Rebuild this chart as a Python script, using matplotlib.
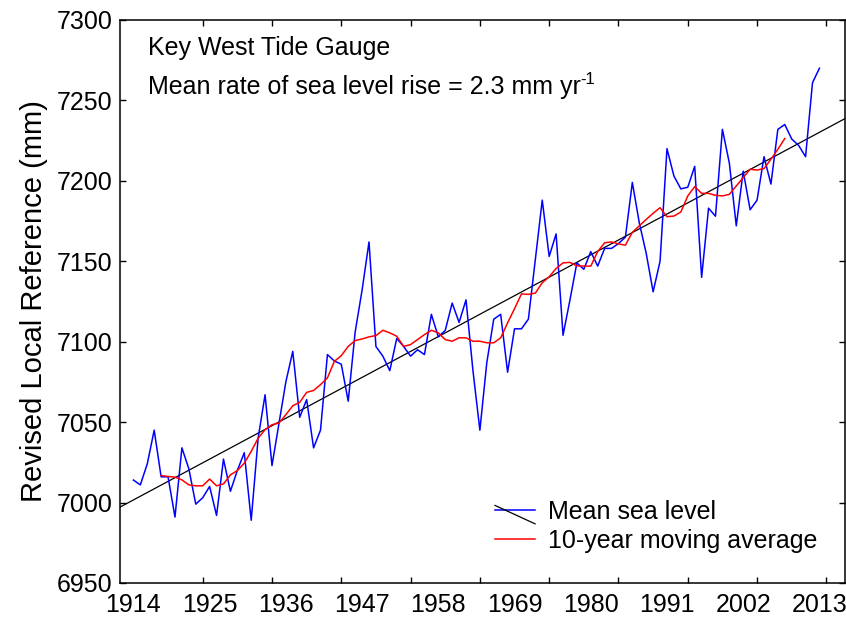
import numpy as np
import matplotlib
matplotlib.use("Agg")
import matplotlib.pyplot as plt
from matplotlib.lines import Line2D
from matplotlib.legend_handler import HandlerBase

plt.rcParams['font.family'] = ['Liberation Sans', 'DejaVu Sans']

# yearly mean sea level, Key West (mm, revised local reference)
years = np.arange(1914, 2014)
msl = [7014, 7011, 7024, 7045, 7016, 7016, 6991, 7034, 7021, 6999,
       7003, 7010, 6992, 7027, 7007, 7020, 7031, 6989, 7040, 7067,
       7023, 7049, 7075, 7094, 7053, 7064, 7034, 7045, 7092, 7088,
       7086, 7063, 7106, 7132, 7162, 7097, 7091, 7082, 7102, 7097,
       7091, 7095, 7092, 7117, 7103, 7107, 7124, 7112, 7126, 7082,
       7045, 7087, 7114, 7117, 7081, 7108, 7108, 7114, 7151, 7188,
       7153, 7167, 7104, 7126, 7149, 7145, 7156, 7147, 7158, 7158,
       7161, 7165, 7199, 7174, 7155, 7131, 7150, 7220, 7203, 7195,
       7196, 7209, 7140, 7183, 7178, 7232, 7211, 7172, 7206, 7182,
       7188, 7215, 7198, 7232, 7235, 7226, 7222, 7215, 7261, 7270]

# 10-year moving average (1918-2008)
ma_years = np.arange(1918, 2009)
ma = [7016.8, 7016.2, 7015.8, 7014.1, 7011.0, 7010.4, 7010.4, 7014.6, 7010.4, 7011.6,
      7017.2, 7019.9, 7024.5, 7031.8, 7040.0, 7045.3, 7048.4, 7049.4, 7054.6, 7060.2,
      7062.3, 7068.5, 7069.7, 7073.3, 7077.5, 7087.8, 7091.3, 7097.1, 7100.7, 7101.7,
      7103.0, 7103.8, 7107.1, 7105.5, 7103.4, 7097.1, 7098.2, 7101.3, 7104.4, 7107.1,
      7105.5, 7101.3, 7100.3, 7102.4, 7102.4, 7100.3, 7100.3, 7099.3, 7099.3, 7102.4,
      7111.7, 7120.5, 7129.7, 7129.4, 7130.2, 7136.6, 7140.4, 7145.5, 7149.0, 7149.3,
      7147.2, 7147.0, 7147.0, 7156.0, 7161.5, 7162.0, 7160.8, 7160.0, 7168.0, 7172.0,
      7176.0, 7179.8, 7183.3, 7177.7, 7178.1, 7180.6, 7190.6, 7196.4, 7192.2, 7192.2,
      7191.0, 7190.6, 7191.6, 7196.8, 7202.0, 7207.2, 7206.7, 7207.6, 7213.4, 7219.6,
      7226.3]

# linear trend (2.3 mm/yr), end points
trend_years = [1912.0, 2016.7]
trend_vals = [6997.0, 7238.7]

label_years = np.arange(1914, 2014, 11)
tick_years = np.arange(1914, 2015, 10)
yticks = np.arange(6950, 7301, 50)


class DiagHandler(HandlerBase):
    # blue line crossed by a black diagonal, like the original legend
    def create_artists(self, legend, orig_handle, xdescent, ydescent,
                       width, height, fontsize, trans):
        x0 = -xdescent
        yc = height / 2 - ydescent
        blue = Line2D([x0, x0 + width], [yc, yc], color='#0000FF', lw=1.1)
        black = Line2D([x0, x0 + width], [yc + 0.25 * height, yc - 0.8 * height],
                       color='black', lw=0.9)
        blue.set_transform(trans)
        black.set_transform(trans)
        return [blue, black]


fig = plt.figure(figsize=(8.46, 6.20), dpi=100)
ax = fig.add_axes([0.1413, 0.0597, 0.8576, 0.9081])

ax.plot(trend_years, trend_vals, color='black', lw=0.9)
h_msl, = ax.plot(years, msl, color='#0000FF', lw=1.1)
h_ma, = ax.plot(ma_years, ma, color='#FF0000', lw=1.1)

ax.set_xlim(1912.0, 2016.7)
ax.set_ylim(6950, 7300)

ax.set_xticks(label_years)
ax.set_xticks(tick_years, minor=True)
ax.set_yticks(yticks)
ax.tick_params(axis='x', which='major', length=0, pad=7, labelsize=18)
ax.tick_params(axis='x', which='minor', direction='in', length=4, width=1,
               top=True, bottom=True)
ax.tick_params(axis='y', direction='in', length=4, width=1, left=True,
               right=True, pad=5, labelsize=18)
for s in ax.spines.values():
    s.set_linewidth(1.1)

ax.set_ylabel('Revised Local Reference (mm)', fontsize=21, labelpad=6)

ax.text(0.039, 0.950, 'Key West Tide Gauge', transform=ax.transAxes,
        fontsize=18, va='center', ha='left')
rate = ax.text(0.039, 0.881, 'Mean rate of sea level rise = 2.3 mm yr',
               transform=ax.transAxes, fontsize=18, va='center', ha='left')
# superscript with a plain hyphen, as in the original
ax.annotate('-1', xy=(1.0, 1.12), xycoords=rate, fontsize=12,
            va='top', ha='left')

ax.legend([h_msl, h_ma], ['Mean sea level', '10-year moving average'],
          handler_map={h_msl: DiagHandler()},
          loc='lower left', bbox_to_anchor=(0.5176, 0.054),
          frameon=False, fontsize=18, borderpad=0, borderaxespad=0,
          handlelength=1.6, handletextpad=0.5, labelspacing=0.2)

fig.savefig('out.png', dpi=100)
